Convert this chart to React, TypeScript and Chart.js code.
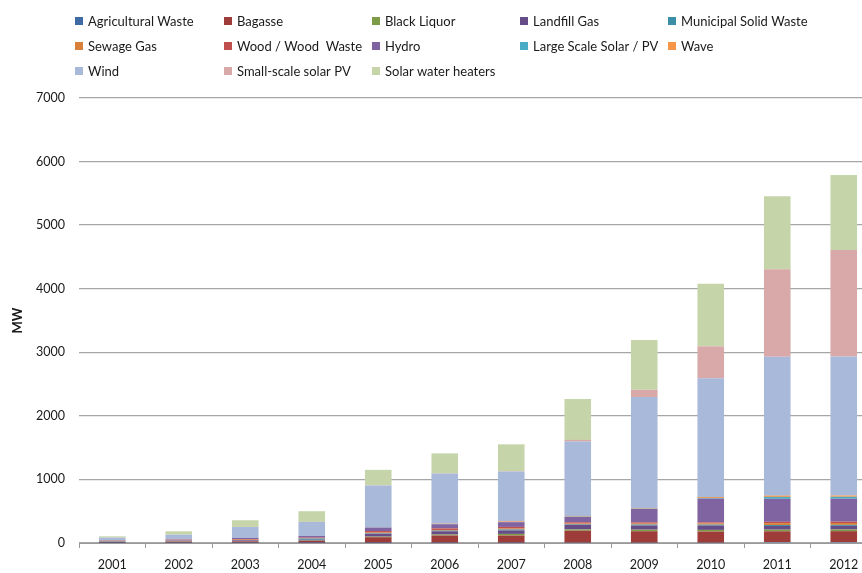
import React, { useEffect, useRef } from "react";
import { Chart, registerables } from "chart.js";

Chart.register(...registerables);

const years = ["2001", "2002", "2003", "2004", "2005", "2006", "2007", "2008", "2009", "2010", "2011", "2012"];

const agriculturalWaste = [1, 2, 2, 2, 2, 3, 3, 5, 5, 5, 16, 16];
const bagasse = [15, 20, 25, 30, 89, 115, 115, 188, 180, 175, 168, 170];
const blackLiquor = [4, 5, 5, 5, 10, 15, 25, 20, 25, 26, 26, 26];
const landfillGas = [8, 10, 10, 15, 42, 52, 55, 73, 65, 68, 58, 58];
const municipalSolidWaste = [2, 3, 5, 18, 8, 10, 15, 8, 15, 15, 15, 15];
const sewageGas = [3, 4, 5, 5, 12, 10, 15, 12, 15, 20, 30, 30];
const woodWaste = [5, 8, 10, 10, 25, 25, 25, 20, 20, 15, 20, 20];
const hydro = [4, 6, 17, 25, 55, 65, 75, 85, 210, 375, 362, 362];
const largeScaleSolar = [0, 0, 0, 0, 1, 2, 2, 5, 5, 10, 30, 30];
const wave = [0, 0, 0, 0, 1, 6, 10, 10, 10, 15, 20, 20];
const wind = [42, 73, 173, 220, 658, 789, 784, 1170, 1746, 1867, 2185, 2185];
const smallScaleSolarPV = [0, 1, 1, 2, 3, 5, 8, 26, 114, 503, 1378, 1677];
const solarWaterHeaters = [21, 52, 105, 168, 245, 313, 420, 643, 782, 984, 1148, 1179];

const seriesLabels = [
  "Agricultural Waste", "Bagasse", "Black Liquor", "Landfill Gas", "Municipal Solid Waste",
  "Sewage Gas", "Wood / Wood  Waste", "Hydro", "Large Scale Solar / PV", "Wave",
  "Wind", "Small-scale solar PV", "Solar water heaters",
];
const seriesValues = [
  agriculturalWaste, bagasse, blackLiquor, landfillGas, municipalSolidWaste,
  sewageGas, woodWaste, hydro, largeScaleSolar, wave,
  wind, smallScaleSolarPV, solarWaterHeaters,
];
const seriesColors = [
  "#3F6BA5", "#9E3C39", "#7E9C47", "#674D87", "#3A8EA5",
  "#D8803A", "#C0504D", "#8064A2", "#4BACC6", "#F79646",
  "#A9B9D9", "#D9A8A8", "#C5D5A9",
];

const yTicks = [0, 1000, 2000, 3000, 4000, 5000, 6000, 7000];

const FONT = 'Lato, "Liberation Sans", sans-serif';

const legendCols = [75, 224, 372, 520, 668];
const legendRows = [21, 46, 71];

const gridLegend = {
  id: "gridLegend",
  afterDraw(chart: any) {
    const ctx = chart.ctx;
    ctx.save();
    ctx.font = `13px ${FONT}`;
    ctx.textBaseline = "middle";
    ctx.textAlign = "left";
    chart.data.datasets.forEach((ds: any, i: number) => {
      const col = i % 5;
      const row = Math.floor(i / 5);
      const x = legendCols[col];
      const y = legendRows[row];
      ctx.fillStyle = ds.backgroundColor;
      ctx.fillRect(x, y - 4, 8, 8);
      ctx.fillStyle = "#1a1a1a";
      ctx.fillText(ds.label, x + 13, y + 0.5);
    });
    ctx.restore();
  },
};

export default function App() {
  const canvasRef = useRef<HTMLCanvasElement | null>(null);

  useEffect(() => {
    if (!canvasRef.current) return;
    const chart = new Chart(canvasRef.current, {
      type: "bar",
      data: {
        labels: years,
        datasets: seriesLabels.map((label, i) => ({
          label,
          data: seriesValues[i],
          backgroundColor: seriesColors[i],
          borderWidth: 0,
          barPercentage: 0.4,
          categoryPercentage: 1,
        })),
      },
      options: {
        responsive: false,
        animation: false,
        devicePixelRatio: 1,
        layout: { padding: { top: 98, right: 23, bottom: 0, left: 0 } },
        plugins: {
          legend: { display: false },
          tooltip: { enabled: false },
        },
        scales: {
          x: {
            stacked: true,
            grid: {
              display: true,
              drawOnChartArea: false,
              drawTicks: true,
              tickLength: 5,
              color: "#9a9a9a",
              offset: true,
            },
            border: { display: true, color: "#9a9a9a", width: 1 },
            ticks: {
              color: "#1a1a1a",
              font: { family: FONT, size: 12.5 },
              padding: 9,
              maxRotation: 0,
            },
            afterFit: (scale: any) => {
              scale.height = 30;
            },
          },
          y: {
            stacked: true,
            min: 0,
            max: 7000,
            afterBuildTicks: (scale: any) => {
              scale.ticks = yTicks.map((v) => ({ value: v }));
            },
            grid: {
              color: "#a6a6a6",
              lineWidth: 1.3,
              drawTicks: false,
            },
            border: { display: false },
            ticks: {
              color: "#1a1a1a",
              font: { family: FONT, size: 12.5 },
              padding: 14,
              callback: (value: any) => String(value),
            },
            title: {
              display: true,
              text: "MW",
              color: "#1a1a1a",
              font: { family: FONT, size: 13, weight: "bold" },
              padding: { top: 10, bottom: 0 },
            },
            afterFit: (scale: any) => {
              scale.width = 79;
            },
          },
        },
      },
      plugins: [gridLegend],
    });
    return () => chart.destroy();
  }, []);

  return (
    <div
      style={{
        position: "fixed",
        left: 0,
        top: 0,
        width: 862,
        height: 573,
        overflow: "hidden",
        background: "#ffffff",
      }}
    >
      <canvas ref={canvasRef} width={900} height={573} style={{ display: "block" }} />
    </div>
  );
}
